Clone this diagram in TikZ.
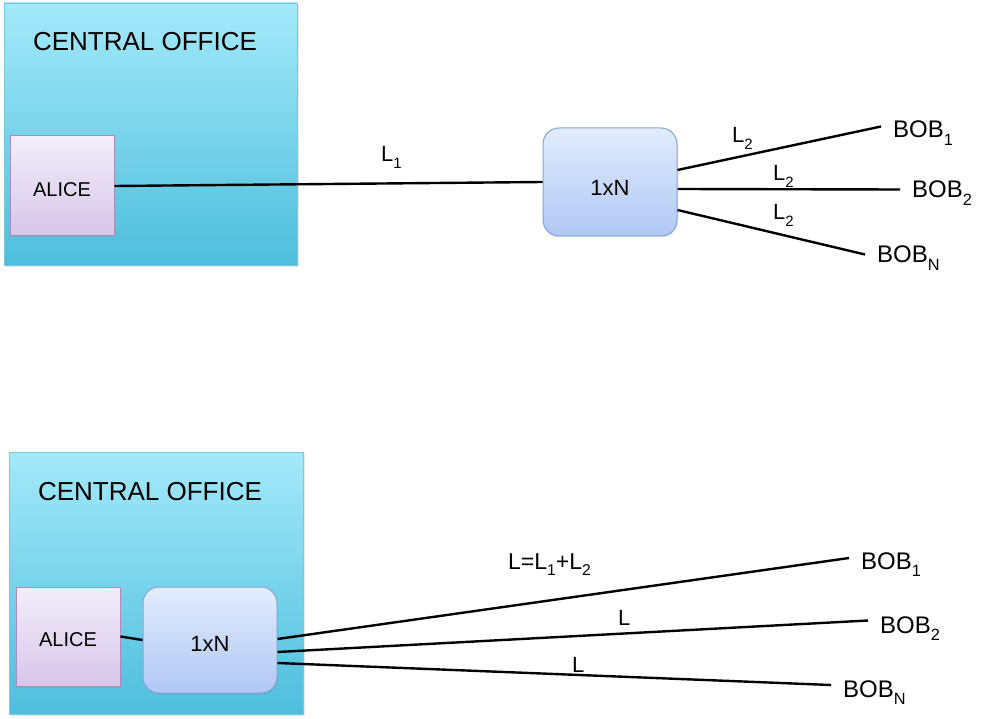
\documentclass[tikz,border=0pt]{standalone}
\usepackage{fontspec}
\setmainfont{Liberation Sans}
\usepackage{graphicx}
\usetikzlibrary{shadows}
\newcommand{\sbx}[1]{\raisebox{-0.3em}{\scalebox{0.68}{#1}}}
\definecolor{coTop}{RGB}{164,233,249}
\definecolor{coBot}{RGB}{78,190,220}
\definecolor{coEdge}{RGB}{120,200,222}
\definecolor{alTop}{RGB}{242,238,250}
\definecolor{alBot}{RGB}{214,198,232}
\definecolor{alEdge}{RGB}{170,140,192}
\definecolor{spTop}{RGB}{226,236,252}
\definecolor{spBot}{RGB}{176,200,244}
\definecolor{spEdge}{RGB}{132,164,218}
\begin{document}
\begin{tikzpicture}[x=1pt,y=-1pt,
  office/.style={draw=coEdge, line width=0.8pt, top color=coTop, bottom color=coBot, inner sep=0pt,
    drop shadow={opacity=0.18, shadow xshift=1.5pt, shadow yshift=-2pt}},
  alicebox/.style={draw=alEdge, line width=1pt, top color=alTop, bottom color=alBot, inner sep=0pt,
    font=\fontsize{20}{24}\selectfont, minimum width=104pt, text depth=0pt,
    drop shadow={opacity=0.2, shadow xshift=1pt, shadow yshift=-1.5pt}},
  splitbox/.style={draw=spEdge, line width=1pt, top color=spTop, bottom color=spBot, inner sep=0pt,
    rounded corners=16pt, minimum width=134pt, font=\fontsize{22}{26}\selectfont, text depth=0pt,
    drop shadow={opacity=0.2, shadow xshift=1pt, shadow yshift=-1.5pt}},
  titletext/.style={font=\fontsize{26}{30}\selectfont, inner sep=0pt},
  bob/.style={anchor=base west, inner xsep=12pt, inner ysep=0pt, text height=17pt, text depth=0pt,
    font=\fontsize{24}{28}\selectfont},
  lab/.style={anchor=base west, inner sep=0pt, font=\fontsize{22}{26}\selectfont},
  wire/.style={line width=2.4pt, black}
]
\useasboundingbox (0,0) rectangle (985,719);

% ---------- top diagram ----------
\node[office, minimum width=293pt, minimum height=262pt] (co1) at (150.5,134) {};
\node[titletext] (t1) at (145,42) {CENTRAL OFFICE};
\node[alicebox, minimum height=100pt, text height=20.3pt] (a1) at (62,186) {ALICE};
\node[splitbox, minimum height=108pt, text height=27.5pt] (s1) at (610,182) {1xN};

\node[bob] (b11) at (881,138) {BOB\sbx{1}};
\node[bob] (b12) at (900,198) {BOB\sbx{2}};
\node[bob] (b1n) at (865,263) {BOB\sbx{N}};

\draw[wire] (a1.east) -- (s1.west);
\draw[wire] ([yshift=12pt]s1.east) -- ([yshift=3pt]b11.west);
\draw[wire] ([yshift=-7pt]s1.east) -- (b12.west);
\draw[wire] ([yshift=-28pt]s1.east) -- (b1n.west);

\node[lab] (l1) at (381,162) {L\sbx{1}};
\node[lab] (l21) at (732,143) {L\sbx{2}};
\node[lab] (l22) at (773,181) {L\sbx{2}};
\node[lab] (l23) at (773,220) {L\sbx{2}};

% ---------- bottom diagram ----------
\node[office, minimum width=294pt, minimum height=262pt] (co2) at (156,583) {};
\node[titletext] (t2) at (150,492) {CENTRAL OFFICE};
\node[alicebox, minimum height=99pt, text height=19.3pt] (a2) at (68,636.5) {ALICE};
\node[splitbox, minimum height=106pt, text height=23.75pt] (s2) at (210,640) {1xN};

\node[bob] (b21) at (849,569) {BOB\sbx{1}};
\node[bob] (b22) at (868,633) {BOB\sbx{2}};
\node[bob] (b2n) at (831,697) {BOB\sbx{N}};

\draw[wire] (a2.east) -- (s2.west);
\draw[wire] ([yshift=1pt]s2.east) -- ([yshift=2.5pt]b21.west);
\draw[wire] ([yshift=-12pt]s2.east) -- ([yshift=4pt]b22.west);
\draw[wire] ([yshift=-23pt]s2.east) -- ([yshift=3.5pt]b2n.west);

\node[lab, font=\fontsize{23}{27}\selectfont] (lsum) at (508,569) {L=L\sbx{1}+L\sbx{2}};
\node[lab] (lm) at (618,625) {L};
\node[lab] (ll) at (572,672) {L};
\end{tikzpicture}
\end{document}
